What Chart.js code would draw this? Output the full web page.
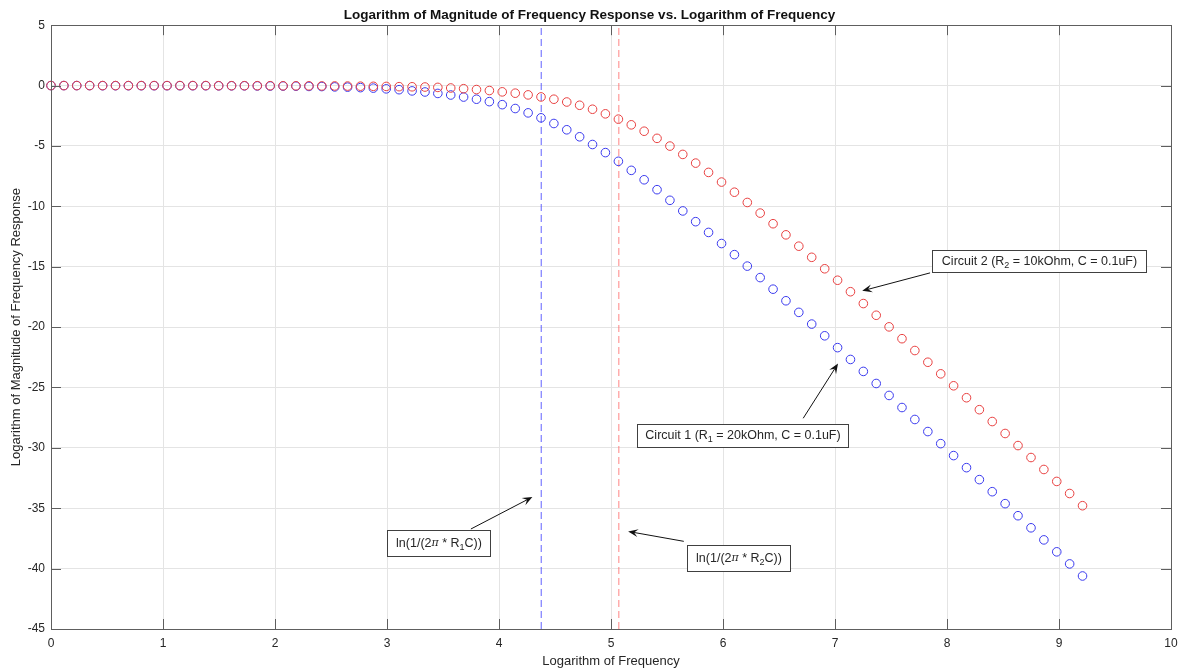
<!DOCTYPE html>
<html>
<head>
<meta charset="utf-8">
<script src="https://cdn.jsdelivr.net/npm/chart.js@4.4.1/dist/chart.umd.min.js"></script>
<style>
  html, body { margin: 0; padding: 0; background: #fff; }
  #wrap { width: 1179px; height: 671px; }
</style>
</head>
<body>
<div id="wrap"><canvas id="bode"></canvas></div>
<script>
// ln(f) sample points, f = 1 Hz .. 10 kHz
const logFreq = [
  0, 0.115, 0.230, 0.345, 0.461, 0.576, 0.691, 0.806, 0.921, 1.036,
  1.151, 1.266, 1.382, 1.497, 1.612, 1.727, 1.842, 1.957, 2.072, 2.187,
  2.303, 2.418, 2.533, 2.648, 2.763, 2.878, 2.993, 3.108, 3.224, 3.339,
  3.454, 3.569, 3.684, 3.799, 3.914, 4.029, 4.145, 4.260, 4.375, 4.490,
  4.605, 4.720, 4.835, 4.950, 5.066, 5.181, 5.296, 5.411, 5.526, 5.641,
  5.756, 5.871, 5.987, 6.102, 6.217, 6.332, 6.447, 6.562, 6.677, 6.792,
  6.908, 7.023, 7.138, 7.253, 7.368, 7.483, 7.598, 7.713, 7.829, 7.944,
  8.059, 8.174, 8.289, 8.404, 8.519, 8.634, 8.750, 8.865, 8.980, 9.095,
  9.210
];

// Circuit 1: R1 = 20kOhm, C = 0.1uF
const circuit1 = [
  0, 0, 0, 0, -0.01, -0.01, -0.01, -0.01, -0.01, -0.01,
  -0.01, -0.01, -0.01, -0.02, -0.02, -0.02, -0.03, -0.04, -0.04, -0.05,
  -0.07, -0.08, -0.11, -0.13, -0.17, -0.21, -0.27, -0.34, -0.44, -0.53,
  -0.65, -0.78, -0.95, -1.13, -1.33, -1.58, -1.90, -2.26, -2.67, -3.14,
  -3.66, -4.24, -4.88, -5.55, -6.27, -7.02, -7.80, -8.62, -9.50, -10.38,
  -11.27, -12.16, -13.08, -14.00, -14.95, -15.90, -16.86, -17.82, -18.78, -19.75,
  -20.72, -21.70, -22.68, -23.67, -24.67, -25.66, -26.66, -27.65, -28.65, -29.65,
  -30.64, -31.64, -32.63, -33.63, -34.62, -35.62, -36.62, -37.62, -38.61, -39.61,
  -40.61
];

// Circuit 2: R2 = 10kOhm, C = 0.1uF
const circuit2 = [
  0, 0, 0, 0, 0, 0, 0, 0, 0, 0,
  0, 0, 0, -0.01, -0.01, -0.01, -0.01, -0.01, -0.02, -0.02,
  -0.02, -0.03, -0.03, -0.04, -0.05, -0.06, -0.07, -0.09, -0.10, -0.12,
  -0.15, -0.20, -0.26, -0.33, -0.41, -0.52, -0.63, -0.77, -0.94, -1.13,
  -1.36, -1.63, -1.96, -2.34, -2.78, -3.25, -3.78, -4.37, -5.01, -5.70,
  -6.42, -7.19, -7.99, -8.83, -9.68, -10.56, -11.44, -12.36, -13.30, -14.22,
  -15.17, -16.12, -17.07, -18.05, -19.02, -19.98, -20.96, -21.94, -22.91, -23.87,
  -24.86, -25.85, -26.84, -27.82, -28.81, -29.81, -30.80, -31.79, -32.78, -33.78,
  -34.79
];

// ln(1/(2*pi*R1*C)) and ln(1/(2*pi*R2*C))
const cutoffLogFreq = [4.377, 5.070];

const xLimits = [0, 10];
const yLimits = [-45, 5];
const xStep = 1;
const yStep = 5;

const FONT = '"Liberation Sans", Arial, Helvetica, sans-serif';
const TEXT = '#262626';

const pts = ys => logFreq.map((x, i) => ({ x, y: ys[i] }));
const vline = x => [{ x, y: yLimits[0] }, { x, y: yLimits[1] }];

// text boxes with arrows, anchored in data units
const notes = [
  { parts: [['Circuit 2 (R', 0], ['2', 1], [' = 10kOhm, C = 0.1uF)', 0]],
    at: [7.869, -13.58], w: 214, h: 22, tail: [7.849, -15.51], head: [7.243, -17.0] },
  { parts: [['Circuit 1 (R', 0], ['1', 1], [' = 20kOhm, C = 0.1uF)', 0]],
    at: [5.236, -28.04], w: 211, h: 23, tail: [6.716, -27.55], head: [7.027, -23.02] },
  { parts: [['ln(1/(2', 0], ['\u03c0', 2], [' * R', 0], ['1', 1], ['C))', 0]],
    at: [2.996, -36.78], w: 103, h: 26, tail: [3.749, -36.72], head: [4.298, -34.07] },
  { parts: [['ln(1/(2', 0], ['\u03c0', 2], [' * R', 0], ['2', 1], ['C))', 0]],
    at: [5.679, -38.02], w: 103, h: 26, tail: [5.650, -37.74], head: [5.153, -36.92] }
];

function partFont(kind) {
  if (kind === 1) return '9px ' + FONT;
  if (kind === 2) return 'italic 11px "DejaVu Serif", serif';
  return '12.5px ' + FONT;
}

function drawArrow(ctx, x0, y0, x1, y1) {
  const ang = Math.atan2(y1 - y0, x1 - x0);
  const L = 10, W = 4;
  const cos = Math.cos(ang), sin = Math.sin(ang);
  ctx.beginPath();
  ctx.moveTo(x0, y0);
  ctx.lineTo(x1 - cos * L * 0.6, y1 - sin * L * 0.6);
  ctx.stroke();
  const bx = x1 - cos * L, by = y1 - sin * L;
  const nx = x1 - cos * L * 0.6, ny = y1 - sin * L * 0.6;
  ctx.beginPath();
  ctx.moveTo(x1, y1);
  ctx.lineTo(bx - sin * W, by + cos * W);
  ctx.lineTo(nx, ny);
  ctx.lineTo(bx + sin * W, by - cos * W);
  ctx.closePath();
  ctx.fill();
}

// MATLAB-style box with inward tick marks, plus annotations
const axesDecor = {
  id: 'axesDecor',
  afterDraw(chart) {
    const { ctx, chartArea: a, scales: { x, y } } = chart;
    ctx.save();
    ctx.strokeStyle = '#5e5e5e';
    ctx.lineWidth = 1;
    ctx.beginPath();
    x.ticks.forEach(t => {
      const px = Math.round(x.getPixelForValue(t.value)) + 0.5;
      ctx.moveTo(px, a.bottom); ctx.lineTo(px, a.bottom - 10);
      ctx.moveTo(px, a.top); ctx.lineTo(px, a.top + 10);
    });
    y.ticks.forEach(t => {
      const py = Math.round(y.getPixelForValue(t.value)) + 0.5;
      ctx.moveTo(a.left, py); ctx.lineTo(a.left + 10, py);
      ctx.moveTo(a.right, py); ctx.lineTo(a.right - 10, py);
    });
    ctx.stroke();
    ctx.strokeRect(Math.round(a.left) + 0.5, Math.round(a.top) + 0.5,
      Math.round(a.right - a.left), Math.round(a.bottom - a.top));

    notes.forEach(n => {
      // arrow
      ctx.strokeStyle = '#111';
      ctx.fillStyle = '#111';
      ctx.lineWidth = 1;
      drawArrow(ctx,
        x.getPixelForValue(n.tail[0]), y.getPixelForValue(n.tail[1]),
        x.getPixelForValue(n.head[0]), y.getPixelForValue(n.head[1]));

      // box
      const bx = Math.round(x.getPixelForValue(n.at[0])) + 0.5;
      const by = Math.round(y.getPixelForValue(n.at[1])) + 0.5;
      ctx.fillStyle = '#fff';
      ctx.fillRect(bx, by, n.w, n.h);
      ctx.strokeStyle = '#404040';
      ctx.strokeRect(bx, by, n.w, n.h);

      // text with subscripts
      let total = 0;
      n.parts.forEach(([s, k]) => { ctx.font = partFont(k); total += ctx.measureText(s).width; });
      let tx = bx + (n.w - total) / 2;
      const ty = by + n.h / 2;
      ctx.fillStyle = TEXT;
      ctx.textBaseline = 'middle';
      ctx.textAlign = 'left';
      n.parts.forEach(([s, k]) => {
        ctx.font = partFont(k);
        ctx.fillText(s, tx, ty + (k === 1 ? 4 : 0));
        tx += ctx.measureText(s).width;
      });
    });
    ctx.restore();
  }
};

const scatterStyle = color => ({
  type: 'scatter',
  showLine: false,
  pointStyle: 'circle',
  pointRadius: 4.3,
  pointBorderWidth: 1,
  pointBorderColor: color,
  pointBackgroundColor: 'rgba(0,0,0,0)',
  borderColor: color,
  clip: false
});

const dashStyle = color => ({
  type: 'line',
  borderColor: color,
  borderWidth: 1,
  borderDash: [7, 4],
  pointRadius: 0,
  fill: false
});

new Chart(document.getElementById('bode'), {
  data: {
    datasets: [
      { label: 'Circuit 2', data: pts(circuit2), ...scatterStyle('#e84040') },
      { label: 'Circuit 1', data: pts(circuit1), ...scatterStyle('#3a3aee') },
      { label: 'ln(1/(2\u03c0 R1C))', data: vline(cutoffLogFreq[0]), ...dashStyle('rgba(70,70,255,0.85)') },
      { label: 'ln(1/(2\u03c0 R2C))', data: vline(cutoffLogFreq[1]), ...dashStyle('rgba(255,110,110,0.85)') }
    ]
  },
  options: {
    responsive: true,
    maintainAspectRatio: false,
    animation: false,
    layout: { padding: { left: 0, right: 0, top: 0, bottom: 0 } },
    plugins: {
      legend: { display: false },
      tooltip: { enabled: false },
      title: {
        display: true,
        text: 'Logarithm of Magnitude of Frequency Response vs. Logarithm of Frequency',
        color: '#111',
        font: { family: FONT, size: 13.5, weight: 'bold' },
        padding: { top: 7, bottom: 2 }
      }
    },
    scales: {
      x: {
        type: 'linear',
        min: xLimits[0],
        max: xLimits[1],
        ticks: { stepSize: xStep, padding: 7, color: TEXT, font: { family: FONT, size: 12 } },
        grid: { color: '#e4e4e4', drawTicks: false },
        border: { display: false },
        title: {
          display: true,
          text: 'Logarithm of Frequency',
          color: TEXT,
          font: { family: FONT, size: 13 },
          padding: { top: 0, bottom: 2 }
        },
        afterFit: s => { s.height = 42; s.paddingRight = 8; s.paddingLeft = 0; }
      },
      y: {
        type: 'linear',
        min: yLimits[0],
        max: yLimits[1],
        ticks: { stepSize: yStep, padding: 6, color: TEXT, font: { family: FONT, size: 12 } },
        grid: { color: '#e4e4e4', drawTicks: false },
        border: { display: false },
        title: {
          display: true,
          text: 'Logarithm of Magnitude of Frequency Response',
          color: TEXT,
          font: { family: FONT, size: 13 },
          padding: { top: 9, bottom: 0 }
        },
        afterFit: s => { s.width = 51; }
      }
    }
  },
  plugins: [axesDecor]
});
</script>
</body>
</html>
